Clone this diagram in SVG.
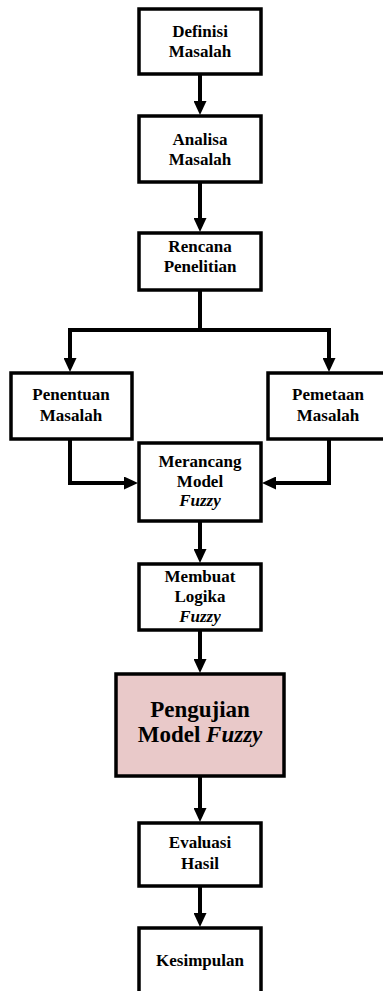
<svg xmlns="http://www.w3.org/2000/svg" width="383" height="991" viewBox="0 0 383 991">
<style>
.box{fill:#ffffff;stroke:#000;stroke-width:3.5}
.hl{fill:#e9c9c9;stroke:#000;stroke-width:3.5}
.t{font-family:'Liberation Serif','Times New Roman',serif;font-weight:700;font-size:17px;fill:#000;text-anchor:middle}
.big{font-size:23px}
.i{font-style:italic}
.c{fill:none;stroke:#000;stroke-width:4}
</style>
<defs>
<marker id="ah" markerUnits="userSpaceOnUse" markerWidth="14" markerHeight="13" refX="9" refY="6.5" orient="auto">
<path d="M0,0 L14,6.5 L0,13 z" fill="#000"/>
</marker>
</defs>
<rect width="383" height="991" fill="#fff"/>
<g id="connectors">
<path class="c" d="M200,75 V110" marker-end="url(#ah)"/>
<path class="c" d="M200,183 V227" marker-end="url(#ah)"/>
<path class="c" d="M200,291 V330"/>
<path class="c" d="M70,330 H329"/>
<path class="c" d="M70,328 V367" marker-end="url(#ah)"/>
<path class="c" d="M329,328 V367" marker-end="url(#ah)"/>
<path class="c" d="M70,440 V483 H133" marker-end="url(#ah)"/>
<path class="c" d="M329,440 V483 H267" marker-end="url(#ah)"/>
<path class="c" d="M200,522 V558" marker-end="url(#ah)"/>
<path class="c" d="M200,631 V668" marker-end="url(#ah)"/>
<path class="c" d="M200,777 V817" marker-end="url(#ah)"/>
<path class="c" d="M200,887 V922" marker-end="url(#ah)"/>
</g>
<g id="definisi">
<rect class="box" x="139" y="9" width="122" height="65"/>
<text class="t" x="200" y="37">Definisi</text>
<text class="t" x="200" y="57">Masalah</text>
</g>
<g id="analisa">
<rect class="box" x="139" y="116" width="122" height="66"/>
<text class="t" x="200" y="145">Analisa</text>
<text class="t" x="200" y="165">Masalah</text>
</g>
<g id="rencana">
<rect class="box" x="139" y="233" width="122" height="57"/>
<text class="t" x="200" y="252">Rencana</text>
<text class="t" x="200" y="272">Penelitian</text>
</g>
<g id="penentuan">
<rect class="box" x="11" y="373" width="121" height="66"/>
<text class="t" x="71" y="400">Penentuan</text>
<text class="t" x="71" y="421">Masalah</text>
</g>
<g id="pemetaan">
<rect class="box" x="268" y="373" width="122" height="66"/>
<text class="t" x="328" y="400">Pemetaan</text>
<text class="t" x="328" y="421">Masalah</text>
</g>
<g id="merancang">
<rect class="box" x="139" y="443" width="122" height="78"/>
<text class="t" x="200" y="467">Merancang</text>
<text class="t" x="200" y="487">Model</text>
<text class="t i" x="200" y="506">Fuzzy</text>
</g>
<g id="membuat">
<rect class="box" x="139" y="564" width="122" height="66"/>
<text class="t" x="200" y="582">Membuat</text>
<text class="t" x="200" y="602">Logika</text>
<text class="t i" x="200" y="622">Fuzzy</text>
</g>
<g id="pengujian">
<rect class="hl" x="116" y="674" width="168" height="102"/>
<text class="t big" x="200" y="717">Pengujian</text>
<text class="t big" x="200" y="742">Model <tspan class="i">Fuzzy</tspan></text>
</g>
<g id="evaluasi">
<rect class="box" x="139" y="823" width="122" height="63"/>
<text class="t" x="200" y="848">Evaluasi</text>
<text class="t" x="200" y="869">Hasil</text>
</g>
<g id="kesimpulan">
<rect class="box" x="139" y="928" width="122" height="70"/>
<text class="t" x="200" y="966">Kesimpulan</text>
</g>
</svg>
